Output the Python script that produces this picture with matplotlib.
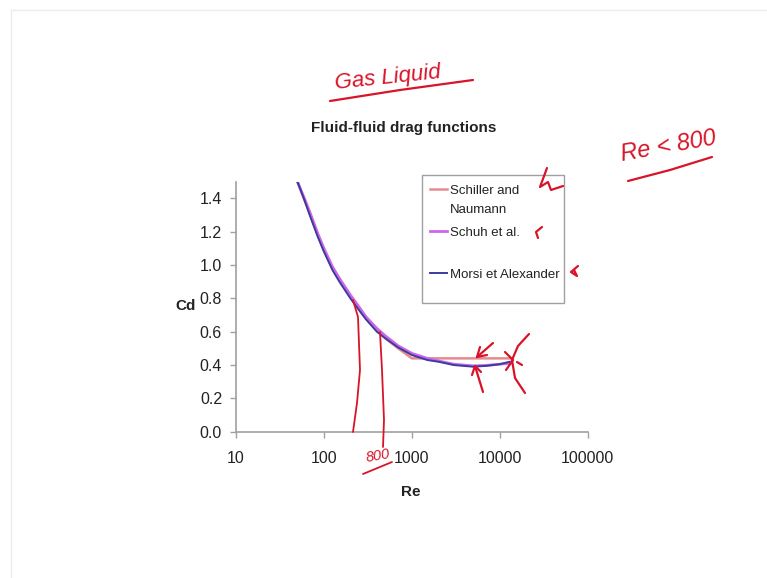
import matplotlib
matplotlib.use("Agg")
import matplotlib.pyplot as plt
from matplotlib.lines import Line2D
from matplotlib.patches import Rectangle

plt.rcParams['font.family'] = ['Liberation Sans', 'DejaVu Sans']

# values
re_vals = [50, 60, 70, 85, 100, 125, 150, 200, 250, 300, 400, 500, 700, 1000,
           1500, 2000, 3000, 5000, 7000, 10000, 13000]
schiller_re = [50, 60, 70, 85, 100, 125, 150, 200, 250, 300, 400, 500, 700, 1000, 14000]
schiller_cd = [1.50, 1.39, 1.30, 1.18, 1.09, 0.98, 0.91, 0.81, 0.74, 0.68, 0.61,
               0.56, 0.50, 0.44, 0.44]
schuh_cd = [1.50, 1.40, 1.31, 1.19, 1.10, 0.99, 0.92, 0.82, 0.75, 0.69, 0.62,
            0.575, 0.515, 0.47, 0.44, 0.425, 0.405, 0.395, 0.398, 0.405, 0.41]
morsi_cd = [1.50, 1.39, 1.29, 1.17, 1.08, 0.97, 0.90, 0.80, 0.73, 0.675, 0.60,
            0.56, 0.505, 0.46, 0.43, 0.42, 0.40, 0.39, 0.395, 0.405, 0.42]
series_names = ['Schiller and\nNaumann', 'Schuh et al.', 'Morsi et Alexander']

x_ticks = [10, 100, 1000, 10000, 100000]
x_labels = ['10', '100', '1000', '10000', '100000']
y_ticks = [0.0, 0.2, 0.4, 0.6, 0.8, 1.0, 1.2, 1.4]

SCHILLER_COL = '#e58a8e'
SCHUH_COL = '#cc66ee'
MORSI_COL = '#3c3c9c'
INK = '#d8142a'
AXIS_COL = '#a0a0a0'
TEXT_COL = '#222222'

W, H = 767, 578
fig = plt.figure(figsize=(W / 100, H / 100), dpi=100)
ax = fig.add_axes([236 / W, 1 - 431.7 / H, (587.7 - 236) / W, (431.7 - 181.7) / H])

l1, = ax.plot(schiller_re, schiller_cd, color=SCHILLER_COL, lw=1.8)
l2, = ax.plot(re_vals, schuh_cd, color=SCHUH_COL, lw=2.0)
l3, = ax.plot(re_vals, morsi_cd, color=MORSI_COL, lw=1.4)

ax.set_xscale('log')
ax.set_xlim(10, 100000)
ax.set_ylim(0, 1.5)
ax.set_xticks(x_ticks)
ax.set_xticklabels(x_labels)
ax.minorticks_off()
ax.set_yticks(y_ticks)
ax.set_yticklabels([f'{v:.1f}' for v in y_ticks])
for s in ['top', 'right']:
    ax.spines[s].set_visible(False)
for s in ['left', 'bottom']:
    ax.spines[s].set_color(AXIS_COL)
    ax.spines[s].set_linewidth(1.2)
ax.tick_params(axis='both', colors=AXIS_COL, labelcolor=TEXT_COL, labelsize=11.5,
               length=4, width=1.0)
ax.tick_params(axis='x', pad=10)
ax.tick_params(axis='y', pad=6)

fig.text(403.5 / W, 1 - 128 / H, 'Fluid-fluid drag functions', ha='center', va='center',
         fontsize=11, fontweight='bold', color=TEXT_COL)
fig.text(410.5 / W, 1 - 492.5 / H, 'Re', ha='center', va='center',
         fontsize=11, fontweight='bold', color=TEXT_COL)
fig.text(186 / W, 1 - 306 / H, 'Cd', ha='center', va='center',
         fontsize=11, fontweight='bold', color=TEXT_COL)

# Excel-style legend: handle sits on the first text line, uneven row gaps
fig.add_artist(Rectangle((422 / W, 1 - 303 / H), (564 - 422) / W, (303 - 175) / H,
                         transform=fig.transFigure, facecolor='white',
                         edgecolor=AXIS_COL, lw=1.0, zorder=3))
row_y = [189, 231, 272.5]
for line, name, y in zip([l1, l2, l3], series_names, row_y):
    fig.add_artist(Line2D([430 / W, 447 / W], [1 - y / H, 1 - y / H],
                          color=line.get_color(), lw=line.get_linewidth(), zorder=4))
    fig.text(450 / W, 1 - (y - 4) / H, name, ha='left', va='top', fontsize=9.5,
             color=TEXT_COL, linespacing=1.8, zorder=4)


# handwritten annotations (pixel coords on the slide)
def stroke(pts, lw=1.6):
    xs = [p[0] / W for p in pts]
    ys = [1 - p[1] / H for p in pts]
    fig.add_artist(Line2D(xs, ys, color=INK, lw=lw, solid_capstyle='round',
                          solid_joinstyle='round', zorder=5))


fig.text(388 / W, 1 - 78 / H, 'Gas Liquid', ha='center', va='center', fontsize=16,
         style='italic', color=INK, rotation=6)
stroke([(330, 101), (400, 90), (473, 80)])
fig.text(668 / W, 1 - 146 / H, 'Re < 800', ha='center', va='center', fontsize=17,
         style='italic', color=INK, rotation=10)
stroke([(628, 181), (670, 170), (712, 157)])

# verticals from the curve down to the axis
stroke([(353, 300), (358, 317), (360, 370), (357, 403), (353, 432)], lw=1.3)
stroke([(380, 332), (382, 370), (384, 420), (383, 447)], lw=1.3)
fig.text(378 / W, 1 - 456 / H, '800', ha='center', va='center', fontsize=10.5,
         style='italic', color=INK, rotation=10)
stroke([(363, 474), (392, 462)], lw=1.3)

# arrows at the plateau
stroke([(493, 343), (477, 357)])
stroke([(480, 347), (477, 357), (487, 355)])
stroke([(483, 392), (475, 366)])
stroke([(472, 375), (475, 366), (481, 372)])
stroke([(529, 334), (518, 346), (512, 360), (515, 378), (525, 393)])
stroke([(505, 352), (513, 360), (506, 370)])
stroke([(517, 362), (522, 365)])

# marks next to the legend
stroke([(547, 168), (540, 187), (548, 182), (551, 190), (563, 186)])
stroke([(542, 227), (536, 232), (538, 238)])
stroke([(578, 266), (571, 272), (577, 276), (574, 270)])

# faint slide border
stroke_col = '#ececec'
fig.add_artist(Line2D([11 / W, 11 / W], [0, 1 - 10 / H], color=stroke_col, lw=1))
fig.add_artist(Line2D([11 / W, 1], [1 - 10 / H, 1 - 10 / H], color=stroke_col, lw=1))

fig.savefig('out.png', dpi=100)
